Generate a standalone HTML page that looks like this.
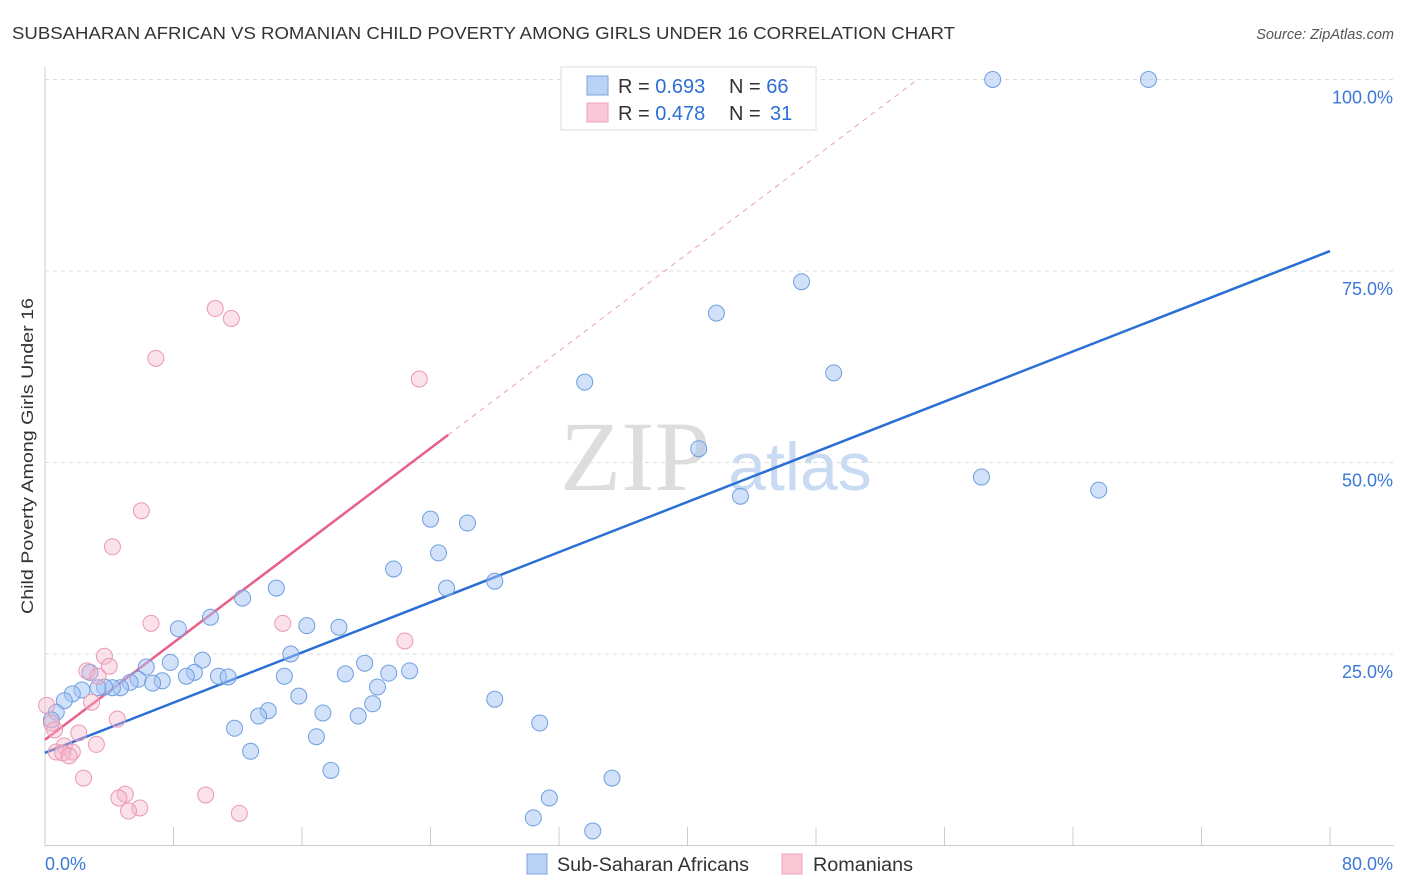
<!DOCTYPE html>
<html><head><meta charset="utf-8"><style>
body{margin:0;background:#fff;font-family:"Liberation Sans",sans-serif;}
#wrap{position:relative;width:1406px;height:892px;overflow:hidden;}
</style></head><body>
<div id="wrap">
<svg id="svg" width="1406" height="892" xmlns="http://www.w3.org/2000/svg">
<text x="12" y="39" font-size="17.5" fill="#333" textLength="943" lengthAdjust="spacingAndGlyphs">SUBSAHARAN AFRICAN VS ROMANIAN CHILD POVERTY AMONG GIRLS UNDER 16 CORRELATION CHART</text>
<text x="1394" y="39" font-size="14.5" fill="#555" font-style="italic" text-anchor="end">Source: ZipAtlas.com</text>
<text x="33" y="456" font-size="17" fill="#333" text-anchor="middle" textLength="316" lengthAdjust="spacingAndGlyphs" transform="rotate(-90 33 456)">Child Poverty Among Girls Under 16</text>
<text x="635" y="490" font-size="100" fill="#ddd" font-family="Liberation Serif" text-anchor="middle">ZIP</text>
<text x="800" y="490" font-size="68" fill="#c9daf3" text-anchor="middle">atlas</text>
<g id="grid"></g><g id="axes"></g><g id="lines"></g><g id="pts"></g>
<g>
<rect x="561" y="67" width="255" height="63" fill="#fff" stroke="#ddd"/>
<rect x="587" y="76" width="21" height="19" fill="#b9d2f5" stroke="#7aa6e0"/>
<rect x="587" y="103" width="21" height="19" fill="#f9c8d7" stroke="#eea0bb"/>
<text x="618" y="93" font-size="20" fill="#333">R = <tspan fill="#2e6fd6">0.693</tspan></text>
<text x="729" y="93" font-size="20" fill="#333">N = <tspan fill="#2e6fd6">66</tspan></text>
<text x="618" y="120" font-size="20" fill="#333">R = <tspan fill="#2e6fd6">0.478</tspan></text>
<text x="729" y="120" font-size="20" fill="#333">N = <tspan x="770" fill="#2e6fd6">31</tspan></text>
</g>
<g>
<rect x="527" y="854" width="20" height="20" fill="#b9d2f5" stroke="#7aa6e0"/>
<text x="557" y="871" font-size="19" fill="#333" textLength="192" lengthAdjust="spacingAndGlyphs">Sub-Saharan Africans</text>
<rect x="782" y="854" width="20" height="20" fill="#f9c8d7" stroke="#eea0bb"/>
<text x="813" y="871" font-size="19" fill="#333" textLength="100" lengthAdjust="spacingAndGlyphs">Romanians</text>
</g>
</svg>
<script>
const blueX=[59.0,68.7,47.1,41.8,49.1,33.6,40.7,43.3,58.3,65.6,24.0,26.3,24.5,21.7,25.0,28.0,14.4,12.3,10.3,8.3,16.3,18.3,15.3,19.9,22.7,21.4,18.7,14.9,20.7,15.8,28.0,20.4,13.9,13.3,17.3,19.5,11.8,30.8,16.9,12.8,17.8,31.4,30.4,34.1,35.3,9.8,7.8,9.3,8.8,6.3,10.8,11.4,7.3,5.8,6.7,5.3,4.7,4.2,3.7,3.3,2.3,1.7,1.2,2.8,0.7,0.4];
const blueY=[100,100,73.6,69.5,61.7,60.5,51.8,45.6,48.1,46.4,42.6,42.1,38.2,36.1,33.6,34.5,33.6,32.3,29.8,28.3,28.7,28.5,25.0,23.8,22.8,22.5,22.4,22.1,20.7,19.5,19.1,18.5,17.6,16.9,17.3,16.9,15.3,16.0,14.2,12.3,9.8,6.2,3.6,1.9,8.8,24.2,23.9,22.6,22.1,23.3,22.1,22.0,21.5,21.7,21.2,21.3,20.6,20.6,20.7,20.6,20.3,19.8,18.9,22.6,17.4,16.4];
const pinkX=[10.6,11.6,6.9,23.3,6.0,4.2,6.6,14.8,22.4,3.7,4.0,2.6,3.3,2.9,4.5,0.1,0.4,0.6,2.1,3.2,1.2,0.7,1.7,1.1,1.5,2.4,5.0,4.6,5.9,5.2,10.0,12.1];
const pinkY=[70.1,68.8,63.6,60.9,43.7,39.0,29.0,29.0,26.7,24.7,23.4,22.8,22.1,18.7,16.5,18.3,16.0,15.1,14.7,13.2,13.0,12.2,12.2,12.1,11.7,8.8,6.7,6.2,4.9,4.5,6.6,4.2];
const blueTrendX=[0,80], blueTrendY=[12.1,77.6];
const pinkTrendX=[0,25.1], pinkTrendY=[13.8,53.6];
const pinkDashX=[25.1,54.2], pinkDashY=[53.6,99.8];
const yTicks=[25,50,75,100];
const yTickLabels=["25.0%","50.0%","75.0%","100.0%"];
const xTicks=[0,8,16,24,32,40,48,56,64,72,80];
const xs=v=>45+v*1285/80, ys=v=>845.5-v*7.66;
const NS="http://www.w3.org/2000/svg";
function mk(par,tag,at){const e=document.createElementNS(NS,tag);for(const k in at)e.setAttribute(k,at[k]);document.getElementById(par).appendChild(e);return e;}
yTicks.forEach((t,i)=>{
 let l=mk('grid','line',{x1:45,x2:1394,y1:ys(t),y2:ys(t),stroke:'#ddd','stroke-dasharray':'4 4'});
 
 
 let tx=mk('grid','text',{x:1393,y:ys(t)+24,'font-size':18,fill:'#3b78d8','text-anchor':'end'});
 tx.textContent=yTickLabels[i];
 
 
});
let ax=mk('axes','line',{x1:45,x2:1394,y1:845.5,y2:845.5,stroke:'#ccc'});


let ay=mk('axes','line',{x1:45,x2:45,y1:67,y2:845.5,stroke:'#ccc'});


xTicks.forEach(t=>{
 let l=mk('axes','line',{x1:xs(t),x2:xs(t),y1:827,y2:845.5,stroke:'#ccc'});
 
 
});
let x0=mk('axes','text',{x:45,y:870,'font-size':18,fill:'#3b78d8'});x0.textContent=xTicks[0].toFixed(1)+'%';


let x1=mk('axes','text',{x:1393,y:870,'font-size':18,fill:'#3b78d8','text-anchor':'end'});x1.textContent=xTicks[xTicks.length-1].toFixed(1)+'%';


blueX.forEach((v,i)=>{
 let c=mk('pts','circle',{cx:xs(v),cy:ys(blueY[i]),r:8,fill:'rgba(164,196,244,0.5)',stroke:'#6f9fe0','stroke-width':1});
 
 
});
pinkX.forEach((v,i)=>{
 let c=mk('pts','circle',{cx:xs(v),cy:ys(pinkY[i]),r:8,fill:'rgba(246,180,202,0.4)',stroke:'#ea98b6','stroke-width':1});
 
 
});
let bl=mk('lines','line',{x1:xs(blueTrendX[0]),y1:ys(blueTrendY[0]),x2:xs(blueTrendX[1]),y2:ys(blueTrendY[1]),stroke:'#2b6fd6','stroke-width':2.5});


let pl=mk('lines','line',{x1:xs(pinkTrendX[0]),y1:ys(pinkTrendY[0]),x2:xs(pinkTrendX[1]),y2:ys(pinkTrendY[1]),stroke:'#e8608a','stroke-width':2.5});


let pd=mk('lines','line',{x1:xs(pinkDashX[0]),y1:ys(pinkDashY[0]),x2:xs(pinkDashX[1]),y2:ys(pinkDashY[1]),stroke:'#eaa0b8','stroke-width':1,'stroke-dasharray':'5 5'});


</script>
</div>
</body></html>
